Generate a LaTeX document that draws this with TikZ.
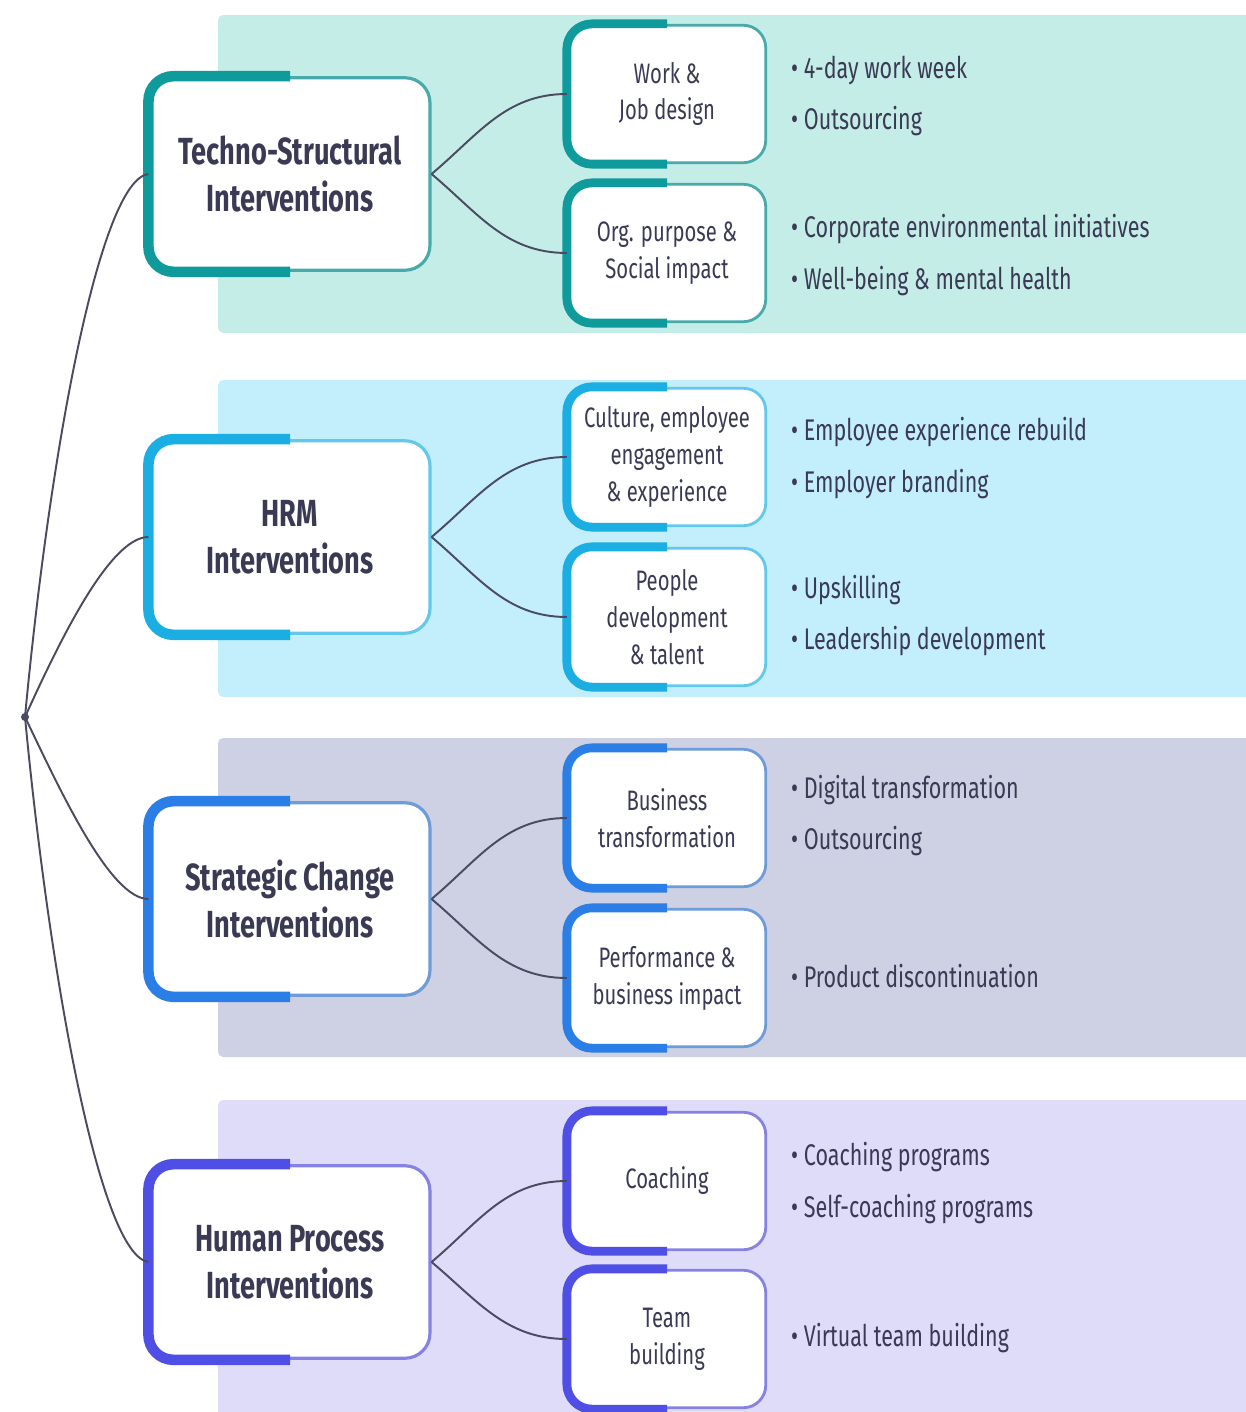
\documentclass[tikz,border=0pt]{standalone}
\usepackage{fontspec}
\setmainfont{Fira Sans}[FakeStretch=0.72]
\usetikzlibrary{positioning}

\definecolor{txt}{HTML}{3A3A55}
\definecolor{linkgray}{HTML}{4A4A60}
\definecolor{bandA}{HTML}{C5EDE7}
\definecolor{bandB}{HTML}{C3EEFC}
\definecolor{bandC}{HTML}{CDD1E3}
\definecolor{bandD}{HTML}{DEDCF9}
\definecolor{darkA}{HTML}{0F9A9C}
\definecolor{liteA}{HTML}{48AAAA}
\definecolor{darkB}{HTML}{1AAEE2}
\definecolor{liteB}{HTML}{62C8EE}
\definecolor{darkC}{HTML}{2A7EE6}
\definecolor{liteC}{HTML}{6E9CD8}
\definecolor{darkD}{HTML}{4F4FE6}
\definecolor{liteD}{HTML}{8682E2}

\tikzset{
  band/.style={fill=#1, draw=none, rounded corners=3pt},
  mainbox/.style={draw=#1, line width=1.8pt, fill=white, rounded corners=0.5cm,
    minimum width=5.6cm, minimum height=3.85cm, align=center, text=txt,
    font=\fontsize{21.5}{27}\selectfont\bfseries},
  subbox/.style={draw=#1, line width=1.6pt, fill=white, rounded corners=0.45cm,
    minimum width=3.95cm, minimum height=2.75cm, align=center, text=txt,
    font=\fontsize{16}{21}\selectfont},
  item/.style={anchor=west, text=txt, font=\fontsize{17}{20}\selectfont},
  link/.style={draw=linkgray, line width=1.1pt},
}
\newcommand{\halfframe}[3]{%
  \draw[line width=#3, #2, rounded corners=0.5cm]
    (#1.north) -- (#1.north west) -- (#1.south west) -- (#1.south);}

\begin{document}
\begin{tikzpicture}[x=0.02cm, y=-0.02cm]
  \useasboundingbox (0,0) rectangle (1245,1412);

  % bands
  \fill[band=bandA] (218,15) rectangle (1260,333);
  \fill[band=bandB] (218,380) rectangle (1260,697);
  \fill[band=bandC] (218,738) rectangle (1260,1057);
  \fill[band=bandD] (218,1100) rectangle (1260,1420);

  \coordinate (root) at (25,717);

  % main boxes
  \node[mainbox=liteA] (techno) at (290,174) {Techno-Structural\\Interventions};
  \node[mainbox=liteB] (hrm) at (290,537) {HRM\\Interventions};
  \node[mainbox=liteC] (strat) at (290,899) {Strategic Change\\Interventions};
  \node[mainbox=liteD] (human) at (290,1262) {Human Process\\Interventions};
  \halfframe{techno}{darkA}{6pt}
  \halfframe{hrm}{darkB}{6pt}
  \halfframe{strat}{darkC}{6pt}
  \halfframe{human}{darkD}{6pt}

  % sub boxes
  \node[subbox=liteA] (work) at (667,94) {Work \&\\Job design};
  \node[subbox=liteA] (purpose) at (667,253) {Org. purpose \&\\Social impact};
  \node[subbox=liteB] (culture) at (667,457) {Culture, employee\\engagement\\\& experience};
  \node[subbox=liteB] (people) at (667,617) {People\\development\\\& talent};
  \node[subbox=liteC] (business) at (667,818) {Business\\transformation};
  \node[subbox=liteC] (perf) at (667,978) {Performance \&\\business impact};
  \node[subbox=liteD] (coach) at (667,1181) {Coaching};
  \node[subbox=liteD] (team) at (667,1339) {Team\\building};
  \halfframe{work}{darkA}{5pt}
  \halfframe{purpose}{darkA}{5pt}
  \halfframe{culture}{darkB}{5pt}
  \halfframe{people}{darkB}{5pt}
  \halfframe{business}{darkC}{5pt}
  \halfframe{perf}{darkC}{5pt}
  \halfframe{coach}{darkD}{5pt}
  \halfframe{team}{darkD}{5pt}

  % items
  \node[item] (workA) at (785,70) {\textbullet\ 4-day work week};
  \node[item] (workB) at (785,121) {\textbullet\ Outsourcing};
  \node[item] (purposeA) at (785,229) {\textbullet\ Corporate environmental initiatives};
  \node[item] (purposeB) at (785,281) {\textbullet\ Well-being \& mental health};
  \node[item] (cultureA) at (785,432) {\textbullet\ Employee experience rebuild};
  \node[item] (cultureB) at (785,484) {\textbullet\ Employer branding};
  \node[item] (peopleA) at (785,590) {\textbullet\ Upskilling};
  \node[item] (peopleB) at (785,641) {\textbullet\ Leadership development};
  \node[item] (businessA) at (785,790) {\textbullet\ Digital transformation};
  \node[item] (businessB) at (785,841) {\textbullet\ Outsourcing};
  \node[item] (perfA) at (785,976) {\textbullet\ Product discontinuation};
  \node[item] (coachA) at (785,1157) {\textbullet\ Coaching programs};
  \node[item] (coachB) at (785,1209) {\textbullet\ Self-coaching programs};
  \node[item] (teamA) at (785,1338) {\textbullet\ Virtual team building};

  % connectors
  \draw[link] (root) .. controls (50,450) and (100,180) .. (techno.west);
  \draw[link] (root) .. controls (60,640) and (110,537) .. (hrm.west);
  \draw[link] (root) .. controls (60,790) and (110,899) .. (strat.west);
  \draw[link] (root) .. controls (50,980) and (100,1255) .. (human.west);
  \fill[linkgray] (root) circle (4);
  \foreach \m/\a/\b in {techno/work/purpose, hrm/culture/people,
      strat/business/perf, human/coach/team} {
    \draw[link] (\m.east) to[out=40, in=180] (\a.west);
    \draw[link] (\m.east) to[out=-40, in=180] (\b.west);
  }
\end{tikzpicture}
\end{document}
